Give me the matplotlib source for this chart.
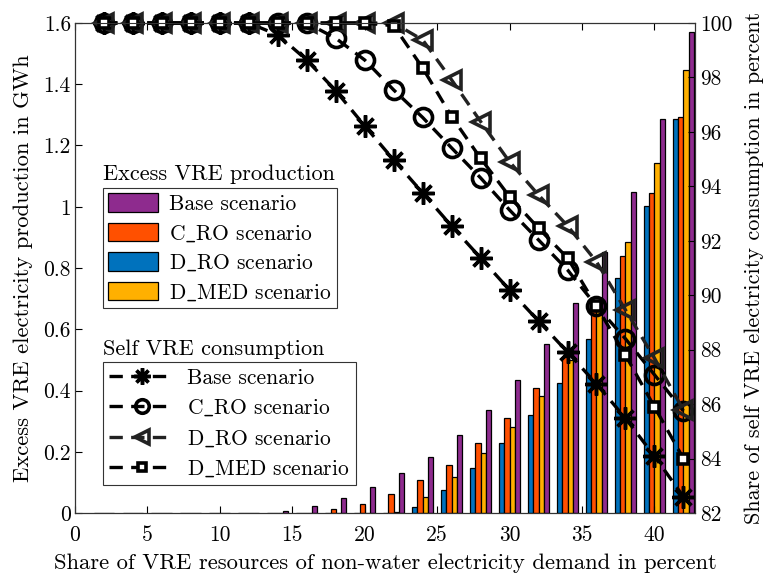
import numpy as np
import matplotlib.pyplot as plt
from matplotlib.patches import Patch
from matplotlib.ticker import FuncFormatter

plt.rcParams['font.family'] = ['cmr10', 'DejaVu Serif']
plt.rcParams['mathtext.fontset'] = 'cm'
plt.rcParams['axes.unicode_minus'] = False

# share of VRE (x positions of the groups)
share = [2, 4, 6, 8, 10, 12, 14, 16, 18, 20, 22, 24, 26, 28, 30, 32, 34, 36, 38, 40, 42]

# excess VRE production in GWh
exc_base = [0, 0, 0, 0, 0, 0, 0.008, 0.023, 0.048, 0.084, 0.13, 0.184, 0.255, 0.336,
            0.434, 0.551, 0.687, 0.851, 1.048, 1.287, 1.571]
exc_cro = [0, 0, 0, 0, 0, 0, 0, 0, 0.013, 0.03, 0.061, 0.107, 0.158, 0.228,
           0.309, 0.408, 0.51, 0.665, 0.838, 1.044, 1.292]
exc_dro = [0, 0, 0, 0, 0, 0, 0, 0, 0, 0, 0, 0.02, 0.075, 0.146,
           0.228, 0.32, 0.425, 0.567, 0.766, 1.001, 1.287]
exc_dmed = [0, 0, 0, 0, 0, 0, 0, 0, 0, 0, 0.004, 0.051, 0.118, 0.195,
            0.282, 0.382, 0.5, 0.672, 0.884, 1.142, 1.447]

# self VRE consumption in percent
self_base = [100, 100, 100, 100, 100, 100, 99.56, 98.64, 97.51, 96.22, 94.97, 93.76,
             92.54, 91.37, 90.19, 89.05, 87.91, 86.74, 85.48, 84.09, 82.6]
self_cro = [100, 100, 100, 100, 100, 100, 100, 100, 99.44, 98.64, 97.54, 96.53,
            95.41, 94.31, 93.13, 92.03, 90.93, 89.6, 88.4, 87.08, 85.75]
self_dro = [100, 100, 100, 100, 100, 100, 100, 100, 100, 100, 100, 99.38,
            97.91, 96.38, 94.9, 93.68, 92.55, 91.23, 89.46, 87.69, 85.78]
self_dmed = [100, 100, 100, 100, 100, 100, 100, 100, 100, 100, 99.9, 98.35,
             96.56, 95.03, 93.62, 92.46, 91.37, 89.6, 87.8, 85.9, 84.0]

# cmr10 has a dot accent in the underscore slot, so go through mathtext
names = ['Base scenario', r'C$\_$RO scenario', r'D$\_$RO scenario', r'D$\_$MED scenario']
purple = '#8E2B8E'
orange = '#FF5000'
blue = '#0072BD'
yellow = '#FFB000'

fig = plt.figure(figsize=(7.67, 5.76), dpi=100)
ax = fig.add_axes([75/767, 1-513/576, 620/767, 490/576])

x = np.array(share)
w = 0.36
ax.bar(x - 1.5*w, exc_dro, w, color=blue, edgecolor='k', linewidth=0.9)
ax.bar(x - 0.5*w, exc_cro, w, color=orange, edgecolor='k', linewidth=0.9)
ax.bar(x + 0.5*w, exc_dmed, w, color=yellow, edgecolor='k', linewidth=0.9)
ax.bar(x + 1.5*w, exc_base, w, color=purple, edgecolor='k', linewidth=0.9)

ax.set_xlim(0, 42.8)
ax.set_ylim(0, 1.6)
ax.set_xticks([0, 5, 10, 15, 20, 25, 30, 35, 40])
ax.set_yticks(np.arange(0, 1.61, 0.2))
ax.yaxis.set_major_formatter(FuncFormatter(lambda v, p: '%g' % round(v, 1)))
ax.tick_params(direction='in', top=True, labelsize=15.5, length=5)
ax.tick_params(axis='x', pad=9)
ax.tick_params(axis='y', pad=3)
ax.set_xlabel('Share of VRE resources of non-water electricity demand in percent', fontsize=16.3, labelpad=6)
ax.set_ylabel('Excess VRE electricity production in GWh', fontsize=16.3, labelpad=7)

ax2 = ax.twinx()
ax2.set_ylim(82, 100)
ax2.set_yticks(np.arange(82, 100.1, 2))
ax2.tick_params(direction='in', labelsize=15.5, length=5)
ax2.set_ylabel('Share of self VRE electricity consumption in percent', fontsize=16, labelpad=9)

ls_kw = dict(linestyle='--', dashes=(4, 2.5), linewidth=2.4, clip_on=False)
l1, = ax2.plot(share, self_base, color='k', marker=(8, 2, 0), markersize=16,
               markeredgewidth=2.5, **ls_kw)
l2, = ax2.plot(share, self_cro, color='k', marker='o', markersize=13, markerfacecolor='none',
               markeredgewidth=2.6, **ls_kw)
l3, = ax2.plot(share, self_dro, color='#222222', marker='<', markersize=13, markerfacecolor='none',
               markeredgewidth=2.6, **ls_kw)
l4, = ax2.plot(share, self_dmed, color='k', marker='s', markersize=7, markerfacecolor='white',
               markeredgewidth=2.6, **ls_kw)

for s in ['top', 'bottom', 'left', 'right']:
    ax2.spines[s].set_linewidth(0.8)
    ax2.spines[s].set_color('#333333')

# legend for bars, title written above the box
fig.text(103/767, 1-174/576, 'Excess VRE production', fontsize=16, va='center', ha='left')
h1 = [Patch(facecolor=c, edgecolor='k', linewidth=0.9) for c in [purple, orange, blue, yellow]]
leg1 = ax2.legend(h1, names, loc='upper left', bbox_to_anchor=(103/767, 1-188/576),
                  bbox_transform=fig.transFigure, fontsize=15.5, handlelength=2.3,
                  handleheight=0.95, handletextpad=0.5, labelspacing=0.4,
                  borderpad=0.25, borderaxespad=0, fancybox=False, edgecolor='#333333',
                  framealpha=1)
leg1.get_frame().set_linewidth(0.8)
ax2.add_artist(leg1)

fig.text(103/767, 1-349/576, 'Self VRE consumption', fontsize=16, va='center', ha='left')
leg2 = ax2.legend([l1, l2, l3, l4], names, loc='upper left', bbox_to_anchor=(103/767, 1-362/576),
                  bbox_transform=fig.transFigure, fontsize=15.5, handlelength=3.0,
                  handletextpad=0.6, labelspacing=0.45, borderpad=0.3, borderaxespad=0,
                  fancybox=False, edgecolor='#333333', framealpha=1, markerscale=0.75)
leg2.get_frame().set_linewidth(0.8)

fig.savefig('out.png', dpi=100)
